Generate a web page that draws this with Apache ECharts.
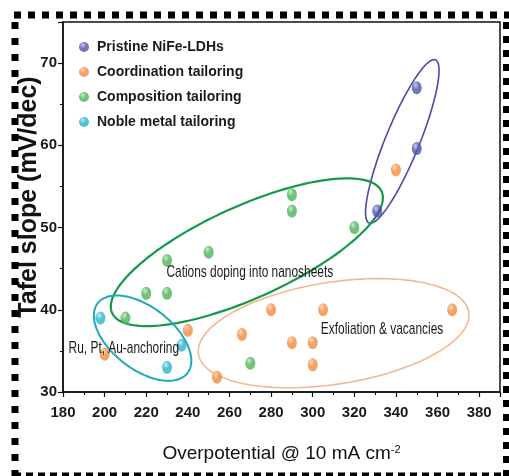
<!DOCTYPE html>
<html>
<head>
<meta charset="utf-8">
<script src="https://cdn.jsdelivr.net/npm/echarts@6/dist/echarts.min.js"></script>
<style>html,body{margin:0;padding:0;background:#fff;}#chart{width:509px;height:476px;}</style>
</head>
<body>
<div id="chart"></div>
<script>
// ---- data ----
const seriesNames = ['Pristine NiFe-LDHs', 'Coordination tailoring', 'Composition tailoring', 'Noble metal tailoring'];
const pristineX = [350, 350, 331];
const pristineY = [67, 59.6, 52];
const coordX = [340, 280, 305, 367, 240, 266, 290, 300, 300, 254, 200];
const coordY = [57, 40, 40, 40, 37.5, 37, 36, 36, 33.3, 31.8, 34.6];
const compX = [290, 290, 320, 250, 230, 220, 230, 210, 270];
const compY = [54, 52, 50, 47, 46, 42, 42, 39, 33.5];
const nobleX = [198, 237, 230];
const nobleY = [39, 35.7, 33];
const xTicks = [180, 200, 220, 240, 260, 280, 300, 320, 340, 360, 380];
const yTicks = [30, 40, 50, 60, 70];

// group outlines: major-axis end points (data units)
const outlineEnds = [
  [327.1, 50.55, 359.0, 70.4],
  [203.6, 39.6, 333.1, 54.4],
  [196.7, 40.8, 239.8, 32.3],
  [245.1, 34.6, 375.0, 39.7]
];
const outlineHalfWidth = [17, 46, 31, 51];
const outlineColors = ['#4b4ba6', '#129a48', '#1eaabb', '#f5b791'];
const outlineWidths = [1.6, 2.2, 2, 1.6];

const noteTexts = ['Cations doping into nanosheets', 'Exfoliation & vacancies', 'Ru, Pt, Au-anchoring'];
const noteX = [229.7, 303.9, 182.7];
const noteY = [44.5, 37.6, 35.3];

const zip = (a, b) => a.map((v, i) => [v, b[i]]);
const ball = 'path://M50,0A50,50 0 1,1 50,100A50,50 0 1,1 50,0Z';
function grad(hi, base) {
  return { type: 'radial', x: 0.38, y: 0.3, r: 0.75,
    colorStops: [{ offset: 0, color: hi }, { offset: 0.45, color: base }, { offset: 1, color: base }] };
}
const fontMain = "'Liberation Sans', Arial, sans-serif";

const chart = echarts.init(document.getElementById('chart'), null, { renderer: 'canvas' });

function scatter(name, data, hi, base) {
  return { name, type: 'scatter', data, symbol: ball, symbolSize: [10, 13], z: 5,
    itemStyle: { color: grad(hi, base) } };
}

const option = {
  animation: false,
  backgroundColor: '#fff',
  grid: { left: 63, right: 9, top: 22, bottom: 84, show: true, borderColor: '#111', borderWidth: 1.5,
    containLabel: false, outerBoundsMode: 'none' },
  legend: {
    data: seriesNames, orient: 'vertical', left: 74, top: 35, itemWidth: 10, itemHeight: 13, itemGap: 11,
    textStyle: { fontFamily: fontMain, fontSize: 14, fontWeight: 'bold', color: '#1a1a1a', padding: [0, 0, 0, 3] }
  },
  xAxis: {
    type: 'value', min: 180, max: 390, interval: 20,
    name: 'Overpotential @ 10 mA cm{s|-2}', nameLocation: 'middle', nameGap: 52, nameMoveOverlap: false,
    nameTextStyle: { fontFamily: fontMain, fontSize: 19, color: '#111',
      rich: { s: { fontFamily: fontMain, fontSize: 11, verticalAlign: 'top', padding: [0, 0, 9, 0], color: '#111' } } },
    axisLine: { lineStyle: { color: '#111', width: 1.5 } },
    axisTick: { show: true, inside: false, length: 5, lineStyle: { color: '#111', width: 1.2 } },
    minorTick: { show: true, splitNumber: 2, length: 3, lineStyle: { color: '#111', width: 1 } },
    splitLine: { show: false },
    axisLabel: { margin: 13, fontFamily: fontMain, fontSize: 15, fontWeight: 'bold', color: '#1a1a1a', showMaxLabel: false,
      formatter: v => (xTicks.indexOf(v) >= 0 ? String(v) : '') }
  },
  yAxis: {
    type: 'value', min: 30, max: 75, interval: 10,
    name: 'Tafel slope (mV/dec)', nameLocation: 'middle', nameGap: 21, nameRotate: 90, nameMoveOverlap: false,
    nameTextStyle: { fontFamily: fontMain, fontSize: 25, fontWeight: 'bold', color: '#111', padding: [0, 0, 0, 20] },
    axisLine: { lineStyle: { color: '#111', width: 1.5 } },
    axisTick: { show: true, inside: false, length: 5, lineStyle: { color: '#111', width: 1.2 } },
    minorTick: { show: true, splitNumber: 2, length: 3, lineStyle: { color: '#111', width: 1 } },
    splitLine: { show: false },
    axisLabel: { margin: 6, fontFamily: fontMain, fontSize: 15, fontWeight: 'bold', color: '#1a1a1a', showMaxLabel: false,
      formatter: v => (yTicks.indexOf(v) >= 0 ? String(v) : '') }
  },
  graphic: [
    { type: 'line', shape: { x1: 14, y1: 15, x2: 509, y2: 15 }, style: { stroke: '#000', lineWidth: 7, lineDash: [7, 7] }, z: 100 },
    { type: 'line', shape: { x1: 15, y1: 22, x2: 15, y2: 476 }, style: { stroke: '#000', lineWidth: 7, lineDash: [7, 9] }, z: 100 },
    { type: 'line', shape: { x1: 506, y1: 22, x2: 506, y2: 476 }, style: { stroke: '#000', lineWidth: 6, lineDash: [7, 7] }, z: 100 },
    { type: 'line', shape: { x1: 14, y1: 474.5, x2: 509, y2: 474.5 }, style: { stroke: '#000', lineWidth: 4, lineDash: [7, 5] }, z: 100 }
  ],
  series: [
    scatter(seriesNames[0], zip(pristineX, pristineY), '#b9bbef', '#4f52aa'),
    scatter(seriesNames[1], zip(coordX, coordY), '#ffd2b0', '#f28b3f'),
    scatter(seriesNames[2], zip(compX, compY), '#b9e6be', '#4db25a'),
    scatter(seriesNames[3], zip(nobleX, nobleY), '#aee9f0', '#2ab3c8'),
    {
      type: 'custom', name: 'outlines', clip: false, silent: true, z: 3,
      data: outlineEnds.map((e, i) => [e[0], e[1], e[2], e[3], i]),
      encode: { x: [0, 2], y: [1, 3] },
      renderItem: function (params, api) {
        const i = api.value(4);
        const p1 = api.coord([api.value(0), api.value(1)]);
        const p2 = api.coord([api.value(2), api.value(3)]);
        const cx = (p1[0] + p2[0]) / 2, cy = (p1[1] + p2[1]) / 2;
        const a = Math.hypot(p2[0] - p1[0], p2[1] - p1[1]) / 2;
        const b = outlineHalfWidth[i];
        const phi = Math.atan2(p2[1] - p1[1], p2[0] - p1[0]);
        const pts = [];
        for (let k = 0; k < 120; k++) {
          const t = k / 120 * Math.PI * 2;
          const u = a * Math.cos(t), w = b * Math.sin(t);
          pts.push([cx + u * Math.cos(phi) - w * Math.sin(phi), cy + u * Math.sin(phi) + w * Math.cos(phi)]);
        }
        return { type: 'polygon', shape: { points: pts },
          style: { fill: 'none', stroke: outlineColors[i], lineWidth: outlineWidths[i] } };
      }
    },
    {
      type: 'custom', name: 'notes', clip: false, silent: true, z: 10,
      data: noteTexts.map((t, i) => [noteX[i], noteY[i], i]),
      encode: { x: 0, y: 1 },
      renderItem: function (params, api) {
        const i = api.value(2);
        const p = api.coord([api.value(0), api.value(1)]);
        return { type: 'text', x: p[0], y: p[1], scaleX: 0.7, scaleY: 1,
          style: { text: noteTexts[i], fill: '#1a1a1a', fontSize: 17, fontFamily: fontMain, align: 'left', verticalAlign: 'middle' } };
      }
    }
  ]
};
chart.setOption(option);
</script>
</body>
</html>
